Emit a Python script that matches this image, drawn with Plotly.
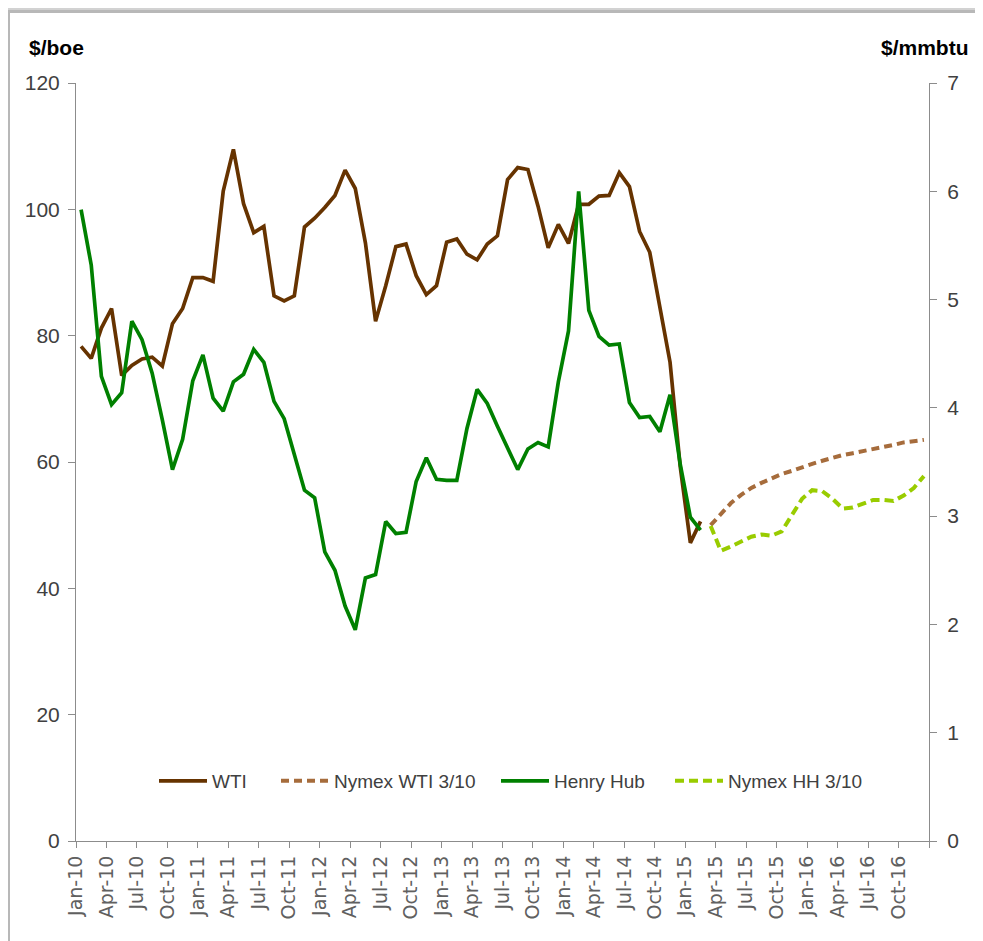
import plotly.graph_objects as go

# ---- data ----
tick_labels = ["Jan-10", "Apr-10", "Jul-10", "Oct-10", "Jan-11", "Apr-11", "Jul-11", "Oct-11",
               "Jan-12", "Apr-12", "Jul-12", "Oct-12", "Jan-13", "Apr-13", "Jul-13", "Oct-13",
               "Jan-14", "Apr-14", "Jul-14", "Oct-14", "Jan-15", "Apr-15", "Jul-15", "Oct-15",
               "Jan-16", "Apr-16", "Jul-16", "Oct-16"]

# monthly, Jan-10 .. Feb-15
wti = [78.3, 76.4, 81.2, 84.3, 73.7, 75.3, 76.3, 76.6, 75.2, 81.9, 84.3, 89.2,
       89.2, 88.6, 102.9, 109.5, 100.9, 96.3, 97.3, 86.3, 85.5, 86.3, 97.2, 98.6,
       100.3, 102.2, 106.2, 103.3, 94.7, 82.3, 87.9, 94.1, 94.5, 89.5, 86.5, 87.9,
       94.8, 95.3, 92.9, 92.0, 94.5, 95.8, 104.7, 106.6, 106.3, 100.5, 93.9, 97.6,
       94.6, 100.8, 100.8, 102.1, 102.2, 105.8, 103.6, 96.5, 93.2, 84.4, 75.8, 59.3,
       47.2, 50.6]
henry_hub = [5.83, 5.32, 4.29, 4.03, 4.14, 4.80, 4.63, 4.32, 3.89, 3.43, 3.71, 4.25,
             4.49, 4.09, 3.97, 4.24, 4.31, 4.54, 4.42, 4.06, 3.90, 3.57, 3.24, 3.17,
             2.67, 2.50, 2.17, 1.95, 2.43, 2.46, 2.95, 2.84, 2.85, 3.32, 3.54, 3.34,
             3.33, 3.33, 3.81, 4.17, 4.04, 3.83, 3.62, 3.43, 3.62, 3.68, 3.64, 4.24,
             4.71, 6.00, 4.90, 4.66, 4.58, 4.59, 4.05, 3.91, 3.92, 3.78, 4.12, 3.48,
             2.99, 2.87]
# monthly, Mar-15 .. Dec-16
nymex_wti = [50.0, 51.7, 53.5, 54.8, 55.9, 56.7, 57.4, 58.1, 58.6, 59.2, 59.7,
             60.2, 60.7, 61.1, 61.4, 61.7, 62.1, 62.4, 62.7, 63.1, 63.3, 63.5]
nymex_hh = [2.91, 2.68, 2.72, 2.76, 2.81, 2.83, 2.82, 2.86, 3.01, 3.16, 3.24,
            3.23, 3.16, 3.07, 3.08, 3.12, 3.15, 3.15, 3.14, 3.19, 3.26, 3.37]

n_hist = len(wti)
x_hist = [i + 0.5 for i in range(n_hist)]
x_fc = [n_hist + i + 0.5 for i in range(len(nymex_wti))]
n_months = n_hist + len(nymex_wti)

# ---- layout geometry (screen pixels; page body adds an 8px offset) ----
OFF = 8
W, H = 983 - OFF, 941 - OFF
L, T = 76 - OFF, 83 - OFF
R = W - (929 - OFF)
B = H - (841 - OFF)
PW, PH = W - L - R, H - T - B


def px(x):
    return (x - OFF - L) / PW


def py(y):
    return (H - B - (y - OFF)) / PH


sans = "Liberation Sans, Arial, sans-serif"
tick_col = "#404040"
axis_col = "#8c8c8c"

fig = go.Figure()
fig.add_trace(go.Scatter(x=x_hist, y=wti, name="WTI", mode="lines", legend="legend",
                         line=dict(color="#663300", width=3.7)))
fig.add_trace(go.Scatter(x=x_fc, y=nymex_wti, name="Nymex WTI 3/10", mode="lines", legend="legend2",
                         line=dict(color="#A66C3C", width=4, dash="8px,5px")))
fig.add_trace(go.Scatter(x=x_hist, y=henry_hub, name="Henry Hub", mode="lines", yaxis="y2",
                         legend="legend3", line=dict(color="#008000", width=3.7)))
fig.add_trace(go.Scatter(x=x_fc, y=nymex_hh, name="Nymex HH 3/10", mode="lines", yaxis="y2",
                         legend="legend4", line=dict(color="#99CC00", width=4, dash="9px,5px")))

shapes = [
    dict(type="rect", xref="paper", yref="paper", layer="below",
         x0=px(3), x1=px(981), y0=py(941), y1=py(8), line=dict(width=0), fillcolor="#d2d2d2"),
    dict(type="rect", xref="paper", yref="paper", layer="below",
         x0=px(6), x1=px(978), y0=py(941), y1=py(10), line=dict(width=0), fillcolor="#b8b8b8"),
    dict(type="rect", xref="paper", yref="paper", layer="below",
         x0=px(10), x1=px(975), y0=py(941), y1=py(13), line=dict(width=0), fillcolor="#ffffff"),
]

annotations = [
    dict(text="<b>$/boe</b>", xref="paper", yref="paper", x=px(27), y=py(47),
         xanchor="left", yanchor="middle", showarrow=False,
         font=dict(family=sans, size=21, color="#000000")),
    dict(text="<b>$/mmbtu</b>", xref="paper", yref="paper", x=px(971), y=py(47),
         xanchor="right", yanchor="middle", showarrow=False,
         font=dict(family=sans, size=21, color="#000000")),
]


def legend_at(x_px):
    return dict(orientation="h", x=px(x_px - 5), y=py(781), xanchor="left", yanchor="middle",
                bgcolor="rgba(0,0,0,0)", font=dict(family=sans, size=19, color=tick_col),
                itemwidth=48, tracegroupgap=0)


fig.update_layout(
    width=W, height=H,
    margin=dict(l=L, r=R, t=T, b=B, pad=0),
    paper_bgcolor="#e8e8e8",
    plot_bgcolor="#ffffff",
    shapes=shapes,
    annotations=annotations,
    showlegend=True,
    legend=legend_at(159),
    legend2=legend_at(281),
    legend3=legend_at(501),
    legend4=legend_at(675),
    xaxis=dict(range=[0, n_months], tickmode="array",
               tickvals=list(range(0, n_months + 1, 3)),
               ticktext=tick_labels + [""],
               tickangle=-90, ticks="outside", ticklen=6, tickcolor=axis_col,
               showline=True, linecolor=axis_col, linewidth=1,
               showgrid=False, zeroline=False,
               tickfont=dict(family="DejaVu Sans", size=19, color="#606060")),
    yaxis=dict(range=[0, 120], dtick=20, ticks="outside", ticklen=7, tickcolor=axis_col,
               showline=True, linecolor=axis_col, linewidth=1, showgrid=False, zeroline=False,
               ticklabelstandoff=4,
               tickfont=dict(family=sans, size=21, color=tick_col)),
    yaxis2=dict(range=[0, 7], dtick=1, overlaying="y", side="right", anchor="x",
                ticks="outside", ticklen=7, tickcolor=axis_col,
                showline=True, linecolor=axis_col, linewidth=1, showgrid=False, zeroline=False,
                ticklabelstandoff=6,
                tickfont=dict(family=sans, size=21, color=tick_col)),
)

fig.write_html("out.html")
